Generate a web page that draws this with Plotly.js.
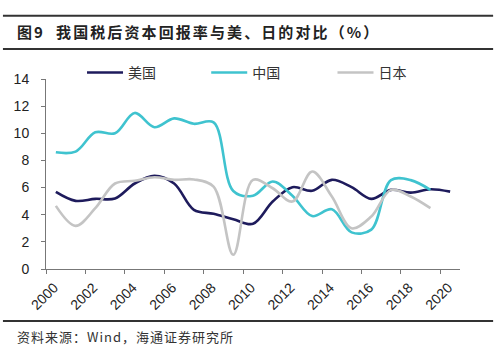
<!DOCTYPE html>
<html>
<head>
<meta charset="utf-8">
<script src="https://cdn.plot.ly/plotly-3.0.1.min.js"></script>
<style>
html,body{margin:0;padding:0;background:#fff;}
#chart{width:500px;height:356px;}
</style>
</head>
<body>
<div id="chart"></div>
<script>
const years = [2000,2001,2002,2003,2004,2005,2006,2007,2008,2009,2010,2011,2012,2013,2014,2015,2016,2017,2018,2019,2020];
const usValues = [5.68,5.02,5.17,5.2,6.3,6.86,6.3,4.36,4.07,3.67,3.33,4.97,6.03,5.76,6.57,6.03,5.17,5.83,5.63,5.88,5.7];
const chinaValues = [8.6,8.65,10.07,10.0,11.5,10.45,11.1,10.7,10.8,5.75,5.4,6.45,5.4,3.9,4.4,2.7,2.9,6.55,6.55,5.83];
const japanValues = [4.65,3.18,4.48,6.3,6.5,6.76,6.57,6.6,6.07,1.05,6.57,5.95,4.97,7.18,5.34,3.0,3.87,5.83,5.34,4.48];
const tickYears = [2000,2002,2004,2006,2008,2010,2012,2014,2016,2018,2020];
const seriesNames = ['美国','中国','日本'];
const titleText = '图9\u00A0\u00A0我国税后资本回报率与美、日的对比（%）';
const sourceText = '资料来源：Wind，海通证券研究所';

const colors = ['#1e1b5c','#3fc3cf','#c4c4c4'];
const legendIds = ['legend','legend2','legend3'];
const legendX = [0.087, 0.387, 0.692];
const allValues = [usValues, chinaValues, japanValues];
const traces = allValues.map((vals, k) => ({
  x: years.slice(0, vals.length),
  y: vals,
  name: seriesNames[k],
  legend: legendIds[k],
  type: 'scatter',
  mode: 'lines',
  line: {color: colors[k], width: 2.6, shape: 'spline', smoothing: 1},
  hoverinfo: 'skip'
}));

const legendBase = (x) => ({
  orientation: 'h', x: x, xanchor: 'left', y: 1.032, yanchor: 'middle',
  font: {family: 'Noto Sans CJK SC, sans-serif', size: 14, color: '#333'},
  bgcolor: 'rgba(0,0,0,0)', itemwidth: 36
});

const tickFont = {family: 'Liberation Sans, Arial, sans-serif', size: 14, color: '#222'};
const layout = {
  width: 500, height: 356,
  margin: {l: 46, r: 40, t: 79, b: 87},
  paper_bgcolor: '#fff', plot_bgcolor: '#fff',
  showlegend: true,
  legend: legendBase(legendX[0]),
  legend2: legendBase(legendX[1]),
  legend3: legendBase(legendX[2]),
  xaxis: {
    range: [1999.5, 2020.5],
    tickmode: 'array',
    tickvals: tickYears.map(y => y - 0.5),
    ticktext: tickYears.map(String),
    tickangle: -45,
    ticklabelshift: 8,
    ticks: 'outside', ticklen: 4, tickcolor: '#777',
    showline: true, linecolor: '#777', linewidth: 1,
    showgrid: false, zeroline: false,
    tickfont: tickFont
  },
  yaxis: {
    range: [0, 14], dtick: 2,
    ticks: 'outside', ticklen: 4, tickcolor: '#777',
    ticklabelstandoff: 9,
    showline: true, linecolor: '#777', linewidth: 1,
    showgrid: false, zeroline: false,
    tickfont: tickFont
  },
  shapes: [
    {type: 'line', xref: 'paper', yref: 'paper', x0: -0.104, x1: 1.08, y0: 1.333, y1: 1.333, line: {color: '#333', width: 2}},
    {type: 'line', xref: 'paper', yref: 'paper', x0: -0.104, x1: 1.08, y0: 1.158, y1: 1.158, line: {color: '#333', width: 2}},
    {type: 'line', xref: 'paper', yref: 'paper', x0: -0.104, x1: 1.08, y0: -0.274, y1: -0.274, line: {color: '#333', width: 2}}
  ],
  annotations: [
    {text: '<b>' + titleText + '</b>', xref: 'paper', yref: 'paper', x: -0.074, y: 1.248, xanchor: 'left', yanchor: 'middle', align: 'left', showarrow: false,
     font: {family: 'Noto Sans CJK SC, sans-serif', size: 15, color: '#222'}},
    {text: sourceText, xref: 'paper', yref: 'paper', x: -0.074, y: -0.353, xanchor: 'left', yanchor: 'middle', align: 'left', showarrow: false,
     font: {family: 'Noto Sans CJK SC, sans-serif', size: 13, color: '#333'}}
  ]
};

Plotly.newPlot('chart', traces, layout, {staticPlot: true, displayModeBar: false}).then(() => {
  const t = document.querySelectorAll('.annotation-text');
  if (t[0]) t[0].style.letterSpacing = '2.1px';
  if (t[1]) t[1].style.letterSpacing = '1px';
});
</script>
</body>
</html>
